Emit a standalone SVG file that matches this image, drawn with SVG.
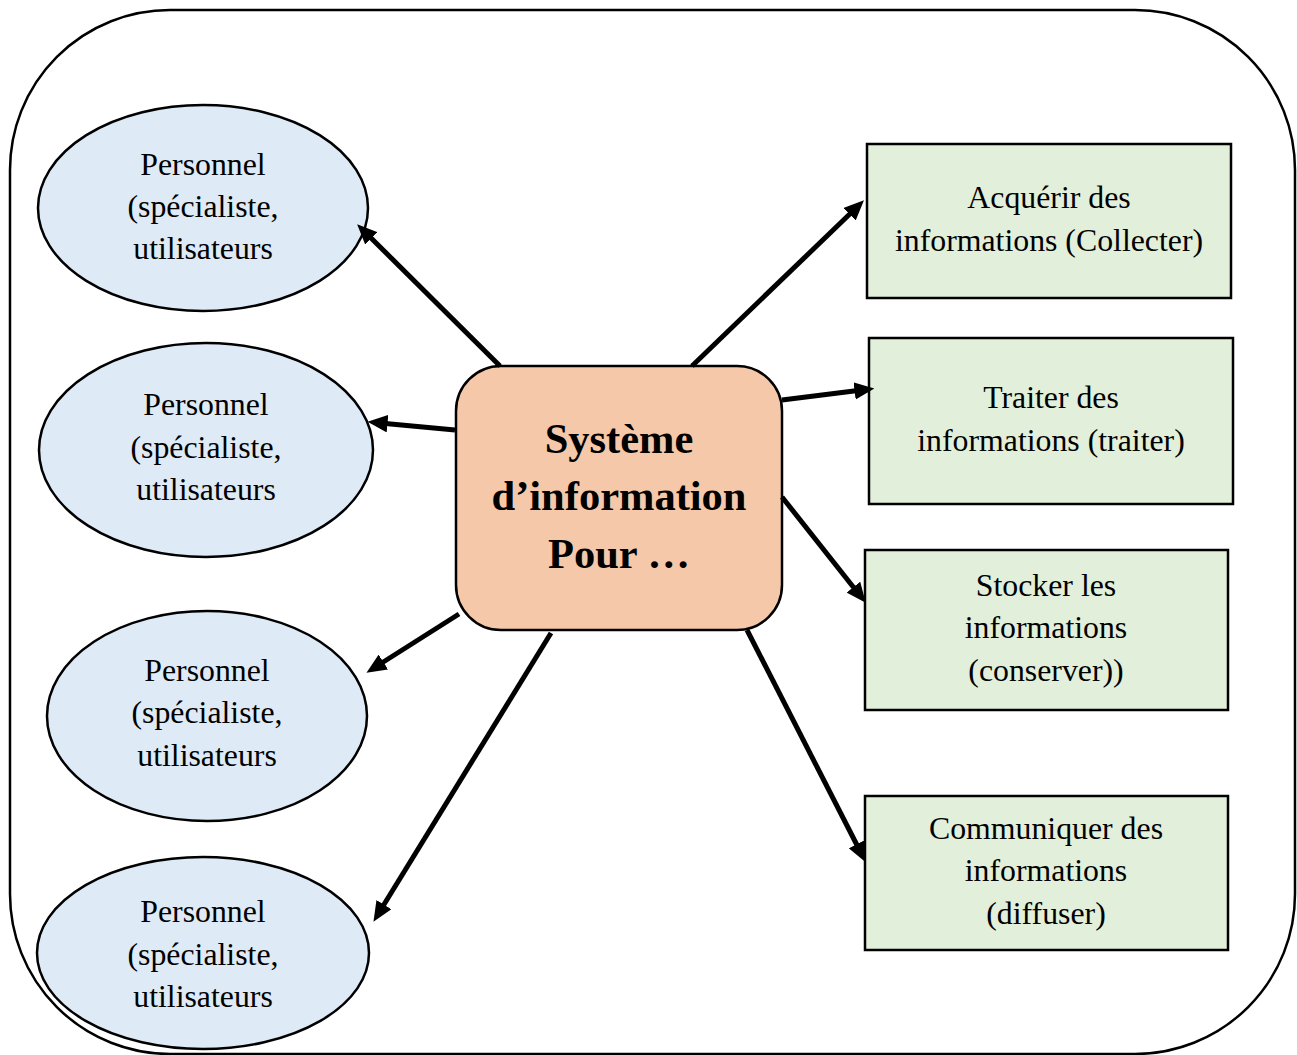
<svg xmlns="http://www.w3.org/2000/svg" width="1297" height="1055" viewBox="0 0 1297 1055">
<style>
.t{font-family:"Liberation Serif","Times New Roman",serif;font-size:31.8px;fill:#000;text-anchor:middle}
.b{font-family:"Liberation Serif","Times New Roman",serif;font-size:42.5px;font-weight:bold;fill:#000;text-anchor:middle}
.e{fill:#DEEAF6;stroke:#000;stroke-width:2.5}
.r{fill:#E2EFDA;stroke:#000;stroke-width:2.5}
.a{stroke:#000;stroke-width:5;fill:none;marker-end:url(#ah)}
</style>
<defs>
<marker id="ah" viewBox="0 0 8 7" markerWidth="4" markerHeight="3.5" refX="3" refY="3.5" orient="auto" markerUnits="strokeWidth">
<path d="M0,0 L8,3.5 L0,7 z" fill="#000"/>
</marker>
</defs>
<rect width="1297" height="1055" fill="#fff"/>
<rect id="frame" x="10" y="10" width="1285" height="1044" rx="160" ry="160" fill="none" stroke="#000" stroke-width="2.5"/>
<g id="p1"><ellipse class="e" cx="203" cy="208" rx="165" ry="103"/><text class="t" x="203" y="175">Personnel</text><text class="t" x="203" y="217">(spécialiste,</text><text class="t" x="203" y="259">utilisateurs</text></g>
<g id="p2"><ellipse class="e" cx="206" cy="450" rx="167" ry="107"/><text class="t" x="206" y="415">Personnel</text><text class="t" x="206" y="458">(spécialiste,</text><text class="t" x="206" y="500">utilisateurs</text></g>
<g id="p3"><ellipse class="e" cx="207" cy="716" rx="160" ry="105"/><text class="t" x="207" y="681">Personnel</text><text class="t" x="207" y="723">(spécialiste,</text><text class="t" x="207" y="766">utilisateurs</text></g>
<g id="p4"><ellipse class="e" cx="203" cy="953" rx="166" ry="96"/><text class="t" x="203" y="922">Personnel</text><text class="t" x="203" y="965">(spécialiste,</text><text class="t" x="203" y="1007">utilisateurs</text></g>
<g id="center"><rect x="456" y="366" width="326" height="264" rx="45" ry="45" fill="#F5C8A9" stroke="#000" stroke-width="2.5"/><text class="b" x="619" y="453">Système</text><text class="b" x="619" y="510">d’information</text><text class="b" x="619" y="568">Pour …</text></g>
<g id="r1"><rect class="r" x="867" y="144" width="364" height="154"/><text class="t" x="1049" y="208">Acquérir des</text><text class="t" x="1049" y="251">informations (Collecter)</text></g>
<g id="r2"><rect class="r" x="869" y="338" width="364" height="166"/><text class="t" x="1051" y="408">Traiter des</text><text class="t" x="1051" y="451">informations (traiter)</text></g>
<g id="r3"><rect class="r" x="865" y="550" width="363" height="160"/><text class="t" x="1046" y="596">Stocker les</text><text class="t" x="1046" y="638">informations</text><text class="t" x="1046" y="681">(conserver))</text></g>
<g id="r4"><rect class="r" x="865" y="796" width="363" height="154"/><text class="t" x="1046" y="839">Communiquer des</text><text class="t" x="1046" y="881">informations</text><text class="t" x="1046" y="924">(diffuser)</text></g>
<g id="connectors">
<path class="a" d="M500,366 L366,233"/>
<path class="a" d="M455,430 L380,423"/>
<path class="a" d="M459,614 L377,666"/>
<path class="a" d="M551,633 L380,911"/>
<path class="a" d="M692,366 L855,209"/>
<path class="a" d="M782,400 L862,390"/>
<path class="a" d="M782,497 L858,593"/>
<path class="a" d="M747,630 L860,851"/>
</g>
</svg>
